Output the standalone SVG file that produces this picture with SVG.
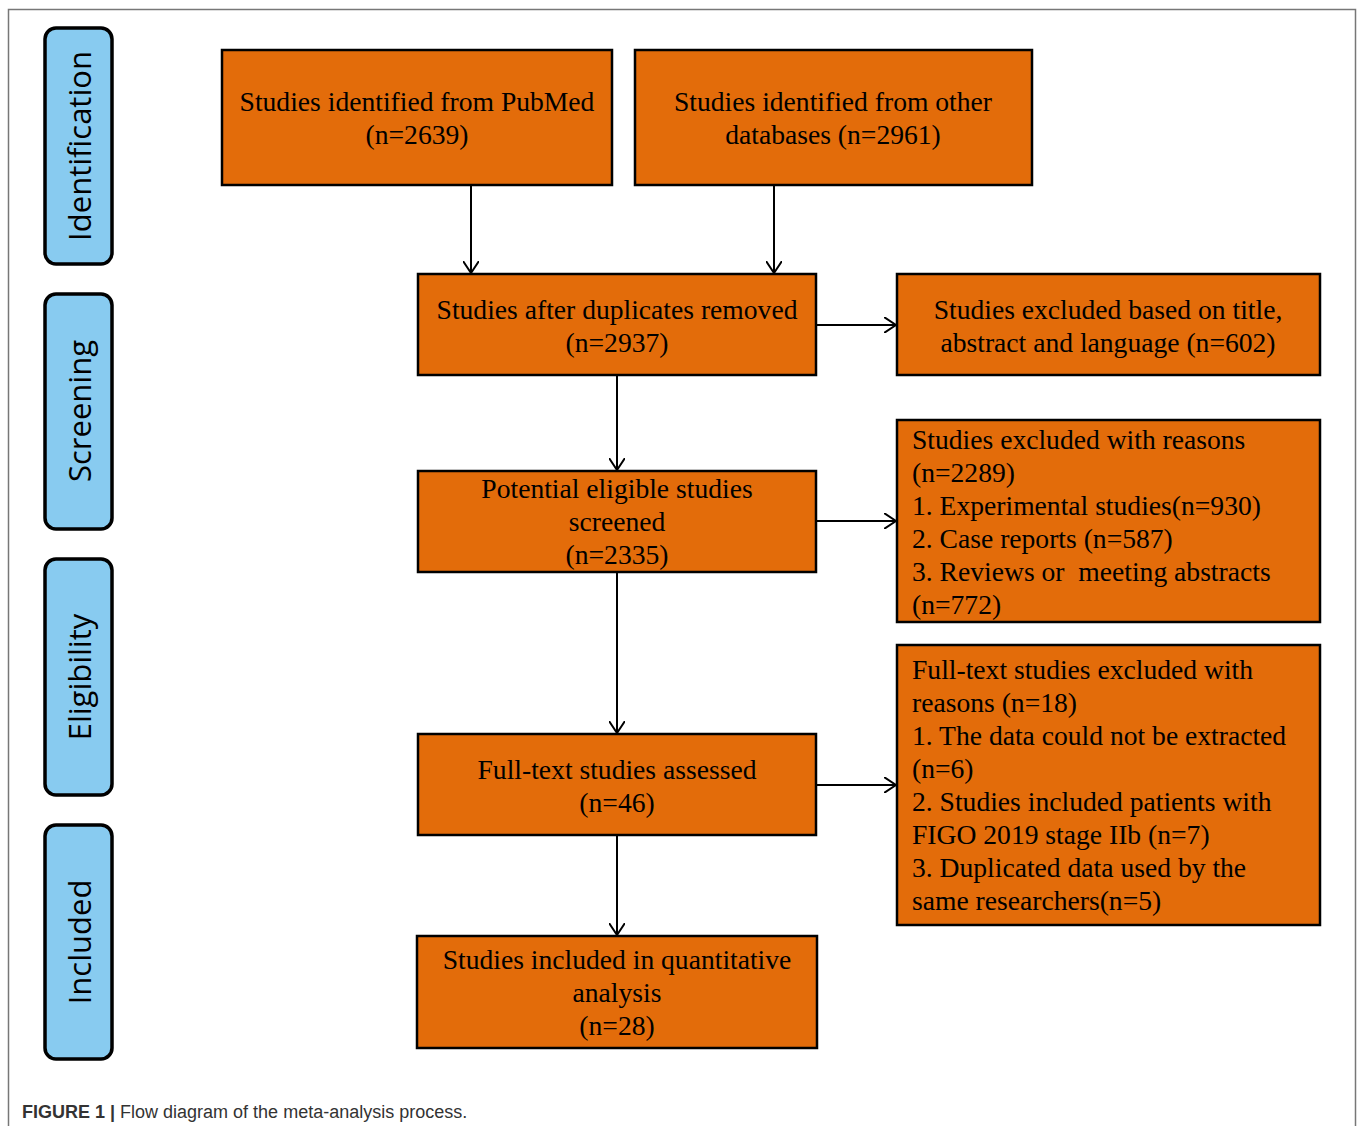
<svg xmlns="http://www.w3.org/2000/svg" width="1358" height="1126" viewBox="0 0 1358 1126">
<style>
.box{fill:#E36C0A;stroke:#000;stroke-width:2.5}
.stage{fill:#88CBF0;stroke:#000;stroke-width:3.5}
.t{font-family:"Liberation Serif",serif;font-size:27.6px;fill:#000}
.c{text-anchor:middle}
.s{font-family:"Open Sans",sans-serif;font-size:31px;fill:#000;text-anchor:middle}
.con{stroke:#000;stroke-width:2;fill:none}
.cap{font-family:"Liberation Sans",Arial,sans-serif;font-size:18px;fill:#333}
</style>
<defs>
<marker id="arr" viewBox="0 0 13 16" refX="12" refY="8" markerWidth="13" markerHeight="16" markerUnits="userSpaceOnUse" orient="auto">
<path d="M0,0 L12,8 L0,16" fill="none" stroke="#000" stroke-width="2"/>
</marker>
</defs>
<rect width="1358" height="1126" fill="#fff"/>
<path d="M8.5,1126 V9.5 H1355.5 V1126" fill="none" stroke="#777" stroke-width="1.5"/>

<g id="stage-identification"><rect class="stage" x="45" y="28" width="67" height="236" rx="11"/><text class="s" transform="translate(91,146) rotate(-90)">Identification</text></g>
<g id="stage-screening"><rect class="stage" x="45" y="294" width="67" height="235" rx="11"/><text class="s" transform="translate(91,411) rotate(-90)">Screening</text></g>
<g id="stage-eligibility"><rect class="stage" x="45" y="559" width="67" height="236" rx="11"/><text class="s" transform="translate(91,677) rotate(-90)">Eligibility</text></g>
<g id="stage-included"><rect class="stage" x="45" y="825" width="67" height="234" rx="11"/><text class="s" transform="translate(91,942) rotate(-90)">Included</text></g>

<g id="pubmed"><rect class="box" x="222" y="50" width="390" height="135"/>
<text class="t c" x="417" y="111">Studies identified from PubMed</text><text class="t c" x="417" y="144">(n=2639)</text></g>
<g id="other"><rect class="box" x="635" y="50" width="397" height="135"/>
<text class="t c" x="833" y="111">Studies identified from other</text><text class="t c" x="833" y="144">databases (n=2961)</text></g>
<g id="duplicates"><rect class="box" x="418" y="274" width="398" height="101"/>
<text class="t c" x="617" y="319">Studies after duplicates removed</text><text class="t c" x="617" y="352">(n=2937)</text></g>
<g id="excluded-title"><rect class="box" x="897" y="274" width="423" height="101"/>
<text class="t c" x="1108" y="319">Studies excluded based on title,</text><text class="t c" x="1108" y="352">abstract and language (n=602)</text></g>
<g id="potential"><rect class="box" x="418" y="471" width="398" height="101"/>
<text class="t c" x="617" y="498">Potential eligible studies</text><text class="t c" x="617" y="531">screened</text><text class="t c" x="617" y="564">(n=2335)</text></g>
<g id="excluded-reasons"><rect class="box" x="897" y="420" width="423" height="202"/>
<text class="t" x="912" y="449">Studies excluded with reasons</text>
<text class="t" x="912" y="482">(n=2289)</text>
<text class="t" x="912" y="515">1. Experimental studies(n=930)</text>
<text class="t" x="912" y="548">2. Case reports (n=587)</text>
<text class="t" x="912" y="581" xml:space="preserve">3. Reviews or  meeting abstracts</text>
<text class="t" x="912" y="614">(n=772)</text></g>
<g id="fulltext"><rect class="box" x="418" y="734" width="398" height="101"/>
<text class="t c" x="617" y="779">Full-text studies assessed</text><text class="t c" x="617" y="812">(n=46)</text></g>
<g id="fulltext-excluded"><rect class="box" x="897" y="645" width="423" height="280"/>
<text class="t" x="912" y="679">Full-text studies excluded with</text>
<text class="t" x="912" y="712">reasons (n=18)</text>
<text class="t" x="912" y="745">1. The data could not be extracted</text>
<text class="t" x="912" y="778">(n=6)</text>
<text class="t" x="912" y="811">2. Studies included patients with</text>
<text class="t" x="912" y="844">FIGO 2019 stage IIb (n=7)</text>
<text class="t" x="912" y="877">3. Duplicated data used by the</text>
<text class="t" x="912" y="910">same researchers(n=5)</text></g>
<g id="included"><rect class="box" x="417" y="936" width="400" height="112"/>
<text class="t c" x="617" y="969">Studies included in quantitative</text><text class="t c" x="617" y="1002">analysis</text><text class="t c" x="617" y="1035">(n=28)</text></g>

<g id="connectors">
<path class="con" d="M471,185 V273" marker-end="url(#arr)"/>
<path class="con" d="M774,185 V273" marker-end="url(#arr)"/>
<path class="con" d="M617,375 V470" marker-end="url(#arr)"/>
<path class="con" d="M617,572 V733" marker-end="url(#arr)"/>
<path class="con" d="M617,835 V935" marker-end="url(#arr)"/>
<path class="con" d="M816,325 H896" marker-end="url(#arr)"/>
<path class="con" d="M816,521 H896" marker-end="url(#arr)"/>
<path class="con" d="M816,785 H896" marker-end="url(#arr)"/>
</g>
<text class="cap" x="22" y="1118"><tspan font-weight="bold">FIGURE 1 |</tspan> Flow diagram of the meta-analysis process.</text>
</svg>
